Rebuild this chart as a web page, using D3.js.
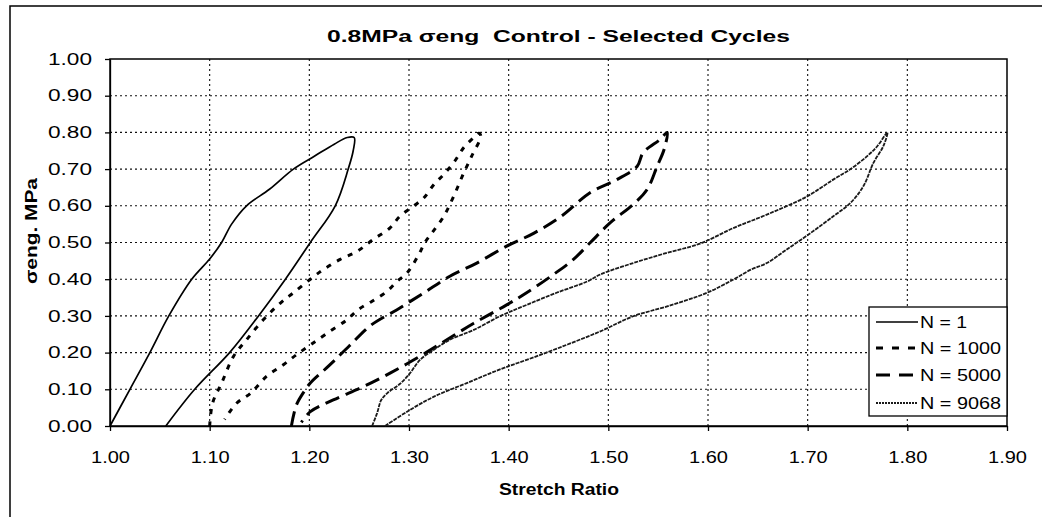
<!DOCTYPE html>
<html>
<head>
<meta charset="utf-8">
<script src="https://cdn.jsdelivr.net/npm/d3@7"></script>
<style>
	body { margin: 0; background: #fff; }
	text { font-family: "Liberation Sans", Arial, sans-serif; fill: #000; }
</style>
</head>
<body>
<div id="chart-area"></div>
<script>

// [stretch ratio, stress MPa] - loading branch first, then unloading
const cycle1 = [
	[1.000, 0.000], [1.020, 0.100], [1.040, 0.200], [1.059, 0.300], [1.082, 0.400],
	[1.100, 0.455], [1.112, 0.500], [1.122, 0.550], [1.137, 0.600], [1.160, 0.645],
	[1.184, 0.700], [1.205, 0.735], [1.225, 0.768], [1.238, 0.786], [1.245, 0.786],
	[1.244, 0.750], [1.239, 0.700], [1.226, 0.600], [1.201, 0.500], [1.176, 0.400],
	[1.149, 0.300], [1.120, 0.200], [1.085, 0.100], [1.056, 0.000]
];

const cycle1000 = [
	[1.100, 0.000], [1.103, 0.063], [1.112, 0.117], [1.124, 0.190], [1.137, 0.235],
	[1.154, 0.290], [1.171, 0.335], [1.184, 0.363], [1.201, 0.400], [1.214, 0.426],
	[1.231, 0.454], [1.248, 0.476], [1.264, 0.508], [1.281, 0.540], [1.291, 0.572],
	[1.305, 0.600], [1.315, 0.622], [1.325, 0.658], [1.335, 0.686], [1.345, 0.718],
	[1.355, 0.759], [1.365, 0.786], [1.370, 0.798], [1.372, 0.790], [1.363, 0.736],
	[1.355, 0.690], [1.345, 0.627], [1.335, 0.572], [1.323, 0.526], [1.316, 0.500],
	[1.309, 0.463], [1.298, 0.417], [1.288, 0.394], [1.278, 0.367], [1.263, 0.340],
	[1.249, 0.317], [1.238, 0.290], [1.218, 0.253], [1.201, 0.221], [1.187, 0.194],
	[1.174, 0.167], [1.157, 0.135], [1.141, 0.089], [1.127, 0.062], [1.115, 0.018]
];

const cycle5000 = [
	[1.182, 0.000], [1.187, 0.057], [1.195, 0.095], [1.201, 0.117], [1.220, 0.165],
	[1.240, 0.218], [1.262, 0.275], [1.288, 0.317], [1.315, 0.363], [1.341, 0.408],
	[1.368, 0.444], [1.398, 0.490], [1.425, 0.525], [1.452, 0.570], [1.482, 0.636],
	[1.509, 0.672], [1.529, 0.708], [1.535, 0.745], [1.552, 0.781], [1.559, 0.800],
	[1.556, 0.754], [1.549, 0.708], [1.539, 0.645], [1.525, 0.604], [1.502, 0.554],
	[1.482, 0.500], [1.465, 0.454], [1.445, 0.413], [1.418, 0.363], [1.398, 0.330],
	[1.365, 0.280], [1.338, 0.235], [1.311, 0.190], [1.281, 0.144], [1.254, 0.107],
	[1.224, 0.071], [1.201, 0.039], [1.192, 0.010]
];

const cycle9068 = [
	[1.263, 0.000], [1.268, 0.035], [1.272, 0.070], [1.278, 0.089], [1.291, 0.115],
	[1.301, 0.144], [1.311, 0.180], [1.325, 0.208], [1.341, 0.235], [1.365, 0.262],
	[1.392, 0.300], [1.418, 0.330], [1.448, 0.363], [1.479, 0.394], [1.492, 0.413],
	[1.525, 0.444], [1.559, 0.472], [1.592, 0.497], [1.626, 0.540], [1.659, 0.576],
	[1.699, 0.625], [1.726, 0.672], [1.743, 0.700], [1.760, 0.736], [1.770, 0.763],
	[1.780, 0.800], [1.776, 0.763], [1.766, 0.717], [1.756, 0.654], [1.743, 0.608],
	[1.726, 0.572], [1.703, 0.526], [1.679, 0.481], [1.659, 0.444], [1.643, 0.426],
	[1.626, 0.400], [1.599, 0.363], [1.559, 0.326], [1.525, 0.299], [1.492, 0.258],
	[1.459, 0.222], [1.425, 0.187], [1.392, 0.155], [1.358, 0.117], [1.325, 0.080],
	[1.298, 0.039], [1.276, 0.000]
];

const seriesNames = ["N = 1", "N = 1000", "N = 5000", "N = 9068"];
const xTicks = [1.0, 1.1, 1.2, 1.3, 1.4, 1.5, 1.6, 1.7, 1.8, 1.9];
const yTicks = [0, 0.1, 0.2, 0.3, 0.4, 0.5, 0.6, 0.7, 0.8, 0.9, 1.0];

class LoopChart {

	constructor(parentElement, data){
		this._parentElement = parentElement;
		this._data = data;
	}

	initVis() {
		let vis = this;

		vis.margin = {top: 59, right: 35, bottom: 91, left: 110};
		vis.width = 1042 - vis.margin.left - vis.margin.right;
		vis.height = 517 - vis.margin.top - vis.margin.bottom;

		vis.root = d3.select("#" + vis._parentElement).append("svg")
			.attr("width", 1042)
			.attr("height", 517);

		// outer chart frame (left + top edges show in the picture)
		vis.root.append("rect")
			.attr("x", 10).attr("y", 6)
			.attr("width", 1060).attr("height", 540)
			.attr("fill", "none").attr("stroke", "#000").attr("stroke-width", 1.5);

		vis.svg = vis.root.append("g")
			.attr("transform", "translate(" + vis.margin.left + "," + vis.margin.top + ")");

		vis.x = d3.scaleLinear().domain([1.0, 1.9]).range([0, vis.width]);
		vis.y = d3.scaleLinear().domain([0, 1.0]).range([vis.height, 0]);

		// dotted grid
		vis.svg.append("g").selectAll("line.vgrid")
			.data(xTicks.slice(1, -1))
			.enter().append("line")
			.attr("x1", d => vis.x(d)).attr("x2", d => vis.x(d))
			.attr("y1", 0).attr("y2", vis.height)
			.attr("stroke", "#111").attr("stroke-width", 1.1)
			.style("stroke-dasharray", "2,3");

		vis.svg.append("g").selectAll("line.hgrid")
			.data(yTicks.slice(1, -1))
			.enter().append("line")
			.attr("x1", 0).attr("x2", vis.width)
			.attr("y1", d => vis.y(d)).attr("y2", d => vis.y(d))
			.attr("stroke", "#111").attr("stroke-width", 1.1)
			.style("stroke-dasharray", "2,3");

		// axes
		vis.xAxis = d3.axisBottom(vis.x)
			.tickValues(xTicks)
			.tickFormat(d3.format(".2f"))
			.tickSize(5).tickSizeOuter(0).tickPadding(21);

		vis.yAxis = d3.axisLeft(vis.y)
			.tickValues(yTicks)
			.tickFormat(d3.format(".2f"))
			.tickSize(5).tickSizeOuter(0).tickPadding(13);

		let gx = vis.svg.append("g")
			.attr("transform", "translate(0," + vis.height + ")")
			.call(vis.xAxis);
		let gy = vis.svg.append("g").call(vis.yAxis);

		[gx, gy].forEach(g => {
			g.attr("font-family", null).attr("font-size", null);
			g.selectAll("path, line").attr("stroke", "#000").attr("stroke-width", 1.3);
			g.selectAll("text")
				.style("font-size", "16px")
				.attr("lengthAdjust", "spacingAndGlyphs");
		});
		gx.selectAll("text").attr("textLength", 39);
		gy.selectAll("text").attr("textLength", 44);

		// plot frame
		vis.svg.append("rect")
			.attr("width", vis.width).attr("height", vis.height)
			.attr("fill", "none").attr("stroke", "#000").attr("stroke-width", 1.5);

		// loops
		vis.styles = [
			{width: 1.7, dash: null, color: "#000"},
			{width: 3, dash: "5,7", color: "#000"},
			{width: 3, dash: "15,7", color: "#000"},
			{width: 1.8, dash: "4,1", color: "#1a1a1a"}
		];

		vis.line = d3.line()
			.x(d => vis.x(d[0]))
			.y(d => vis.y(d[1]))
			.curve(d3.curveCatmullRom.alpha(0.5));

		vis._data.forEach((loop, i) => {
			vis.svg.append("path")
				.datum(loop)
				.attr("fill", "none")
				.attr("stroke", vis.styles[i].color)
				.attr("stroke-width", vis.styles[i].width)
				.style("stroke-dasharray", vis.styles[i].dash)
				.attr("d", vis.line);
		});

		// titles
		vis.root.append("text")
			.attr("x", 558.5).attr("y", 41.5)
			.attr("text-anchor", "middle")
			.style("font-size", "16px").style("font-weight", "bold")
			.style("white-space", "pre")
			.attr("textLength", 463).attr("lengthAdjust", "spacingAndGlyphs")
			.text("0.8MPa σeng  Control - Selected Cycles");

		vis.root.append("text")
			.attr("x", 559).attr("y", 495)
			.attr("text-anchor", "middle")
			.style("font-size", "16px").style("font-weight", "bold")
			.attr("textLength", 120).attr("lengthAdjust", "spacingAndGlyphs")
			.text("Stretch Ratio");

		vis.root.append("text")
			.attr("transform", "translate(37,231) rotate(-90)")
			.attr("text-anchor", "middle")
			.style("font-size", "16px").style("font-weight", "bold")
			.attr("textLength", 106).attr("lengthAdjust", "spacingAndGlyphs")
			.text("σeng. MPa");

		// legend
		let legend = vis.root.append("g");
		legend.append("rect")
			.attr("x", 869).attr("y", 307)
			.attr("width", 138).attr("height", 109)
			.attr("fill", "#fff").attr("stroke", "#000").attr("stroke-width", 1.3);

		let rowY = [322, 348, 375, 403];
		let textW = [47, 81, 81, 81];
		seriesNames.forEach((name, i) => {
			legend.append("line")
				.attr("x1", 876).attr("x2", 918)
				.attr("y1", rowY[i]).attr("y2", rowY[i])
				.attr("stroke", vis.styles[i].color)
				.attr("stroke-width", vis.styles[i].width)
				.style("stroke-dasharray", i == 1 ? "7,9" : (i == 2 ? "14,9" : (i == 3 ? "2,1" : null)));
			legend.append("text")
				.attr("x", 920).attr("y", rowY[i] + 6)
				.style("font-size", "16px")
				.attr("textLength", textW[i]).attr("lengthAdjust", "spacingAndGlyphs")
				.text(name);
		});
	}
}

let chart = new LoopChart("chart-area", [cycle1, cycle1000, cycle5000, cycle9068]);
chart.initVis();

</script>
</body>
</html>
